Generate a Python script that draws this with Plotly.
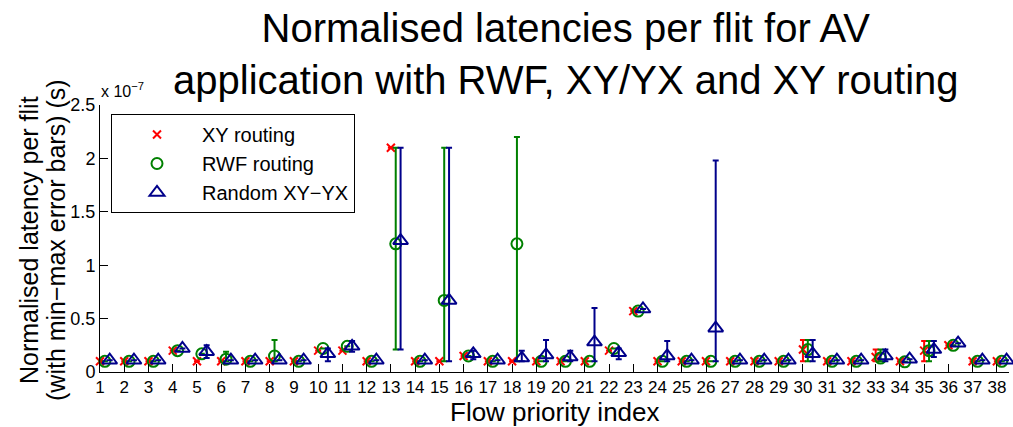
import plotly.graph_objects as go

# Flow indices
flows = list(range(1, 39))
tick_labels = [str(i) for i in flows]

# Values in units of 1e-7 s (mean, min, max)
xy_mean = [0.10, 0.10, 0.10, 0.20, 0.10, 0.10, 0.10, 0.10, 0.10, 0.20,
           0.20, 0.10, 2.10, 0.10, 0.10, 0.15, 0.10, 0.10, 0.10, 0.10,
           0.10, 0.20, 0.57, 0.10, 0.10, 0.10, 0.10, 0.10, 0.10, 0.21,
           0.10, 0.10, 0.14, 0.10, 0.20, 0.25, 0.10, 0.10]
xy_min = list(xy_mean)
xy_max = list(xy_mean)
xy_min[29], xy_max[29] = 0.10, 0.30
xy_min[32], xy_max[32] = 0.10, 0.21
xy_min[34], xy_max[34] = 0.10, 0.29

rwf_mean = [0.10, 0.10, 0.10, 0.20, 0.17, 0.12, 0.10, 0.15, 0.10, 0.22,
            0.24, 0.10, 1.20, 0.10, 0.67, 0.15, 0.10, 1.20, 0.10, 0.10,
            0.10, 0.22, 0.57, 0.10, 0.10, 0.10, 0.10, 0.10, 0.10, 0.21,
            0.10, 0.10, 0.13, 0.095, 0.20, 0.25, 0.10, 0.10]
rwf_min = list(rwf_mean)
rwf_max = list(rwf_mean)
rwf_min[5], rwf_max[5] = 0.10, 0.19
rwf_min[7], rwf_max[7] = 0.10, 0.30
rwf_min[12], rwf_max[12] = 0.21, 2.10
rwf_min[14], rwf_max[14] = 0.10, 2.10
rwf_min[17], rwf_max[17] = 0.10, 2.20
rwf_min[29], rwf_max[29] = 0.10, 0.30
rwf_min[32], rwf_max[32] = 0.10, 0.21
rwf_min[34], rwf_max[34] = 0.10, 0.29

rnd_mean = [0.11, 0.11, 0.11, 0.22, 0.19, 0.11, 0.11, 0.11, 0.11, 0.17,
            0.24, 0.11, 1.23, 0.11, 0.67, 0.17, 0.11, 0.13, 0.16, 0.14,
            0.28, 0.18, 0.59, 0.15, 0.11, 0.41, 0.11, 0.11, 0.11, 0.17,
            0.11, 0.11, 0.15, 0.12, 0.21, 0.27, 0.11, 0.11]
rnd_min = list(rnd_mean)
rnd_max = list(rnd_mean)
rnd_min[4], rnd_max[4] = 0.13, 0.25
rnd_min[9], rnd_max[9] = 0.10, 0.22
rnd_min[10], rnd_max[10] = 0.19, 0.29
rnd_min[12], rnd_max[12] = 0.21, 2.10
rnd_min[14], rnd_max[14] = 0.10, 2.10
rnd_min[15], rnd_max[15] = 0.12, 0.20
rnd_min[17], rnd_max[17] = 0.10, 0.20
rnd_min[18], rnd_max[18] = 0.10, 0.30
rnd_min[19], rnd_max[19] = 0.10, 0.20
rnd_min[20], rnd_max[20] = 0.10, 0.60
rnd_min[21], rnd_max[21] = 0.12, 0.22
rnd_min[23], rnd_max[23] = 0.10, 0.29
rnd_min[25], rnd_max[25] = 0.10, 1.98
rnd_min[29], rnd_max[29] = 0.10, 0.30
rnd_min[32], rnd_max[32] = 0.10, 0.21
rnd_min[34], rnd_max[34] = 0.14, 0.29

series_names = ["XY routing", "RWF routing", "Random XY\u2212YX"]
title_text = "Normalised latencies per flit for AV<br>application with RWF, XY/YX and XY routing"
offsets = [0.0, 0.2, 0.4]
colors = ["#FF0000", "#008000", "#00008B"]
symbols = ["x-thin-open", "circle-open", "triangle-up-open"]
sizes = [8, 11, 13]

FONT = "Liberation Sans, Arial, sans-serif"

W, H = 1013, 427
ML, MR, MT, MB = 100, 4, 105, 55
PH = H - MT - MB


def py(pix):
    """pixel row -> paper y"""
    return (H - MB - pix) / PH


def px(pix):
    return (pix - ML) / (W - ML - MR)


fig = go.Figure()
data = [(xy_mean, xy_min, xy_max), (rwf_mean, rwf_min, rwf_max), (rnd_mean, rnd_min, rnd_max)]
for (m, lo, hi), name, off, col, sym, sz in zip(data, series_names, offsets, colors, symbols, sizes):
    fig.add_trace(go.Scatter(
        x=[f + off for f in flows], y=m, mode="markers", name=name,
        marker=dict(symbol=sym, size=sz, color=col, line=dict(color=col, width=2)),
        error_y=dict(type="data", symmetric=False,
                     array=[h - v for h, v in zip(hi, m)],
                     arrayminus=[v - l for v, l in zip(m, lo)],
                     color=col, thickness=2, width=3),
        cliponaxis=False,
    ))

fig.update_layout(
    width=W, height=H,
    margin=dict(l=ML, r=MR, t=MT, b=MB, autoexpand=False),
    paper_bgcolor="white", plot_bgcolor="white",
    font=dict(family=FONT, color="black", size=18),
    showlegend=True,
    legend=dict(x=px(111), y=py(114), xanchor="left", yanchor="top",
                bgcolor="white", bordercolor="black", borderwidth=1,
                font=dict(size=20, family=FONT), itemwidth=80,
                entrywidth=175, tracegroupgap=0),
)
fig.update_xaxes(range=[1, 38.5], tickmode="array", tickvals=flows, ticktext=tick_labels,
                 ticks="inside", ticklen=8, tickcolor="black", showline=True,
                 linecolor="black", linewidth=1, showgrid=False, zeroline=False,
                 automargin=False, tickfont=dict(size=17))
fig.update_yaxes(range=[0, 2.5], tickvals=[0, 0.5, 1, 1.5, 2, 2.5],
                 ticktext=["0", "0.5", "1", "1.5", "2", "2.5"],
                 ticks="inside", ticklen=8, tickcolor="black", showline=True,
                 linecolor="black", linewidth=1, showgrid=False, zeroline=False,
                 automargin=False, tickfont=dict(size=18))

# Two-line title
fig.add_annotation(text=title_text, xref="paper", yref="paper", x=px(566), y=py(54),
                   xanchor="center", yanchor="middle", showarrow=False,
                   font=dict(size=40, family=FONT))
# Axis titles
fig.add_annotation(text="Flow priority index", xref="paper", yref="paper", x=px(555), y=py(412),
                   xanchor="center", yanchor="middle", showarrow=False, font=dict(size=26, family=FONT))
fig.add_annotation(text="Normalised latency per flit", xref="paper", yref="paper", x=px(29), y=py(240),
                   xanchor="center", yanchor="middle", showarrow=False, textangle=-90,
                   font=dict(size=25, family=FONT))
fig.add_annotation(text="(with min\u2212max error bars) (s)", xref="paper", yref="paper", x=px(56), y=py(240),
                   xanchor="center", yanchor="middle", showarrow=False, textangle=-90,
                   font=dict(size=25, family=FONT))
# Exponent label
fig.add_annotation(text="x 10<sup>\u22127</sup>", xref="paper", yref="paper", x=px(99), y=py(90),
                   xanchor="left", yanchor="middle", showarrow=False, font=dict(size=16, family=FONT))

fig.write_html("out.html", config={"displayModeBar": False},
               post_script="document.body.style.margin='0';")
